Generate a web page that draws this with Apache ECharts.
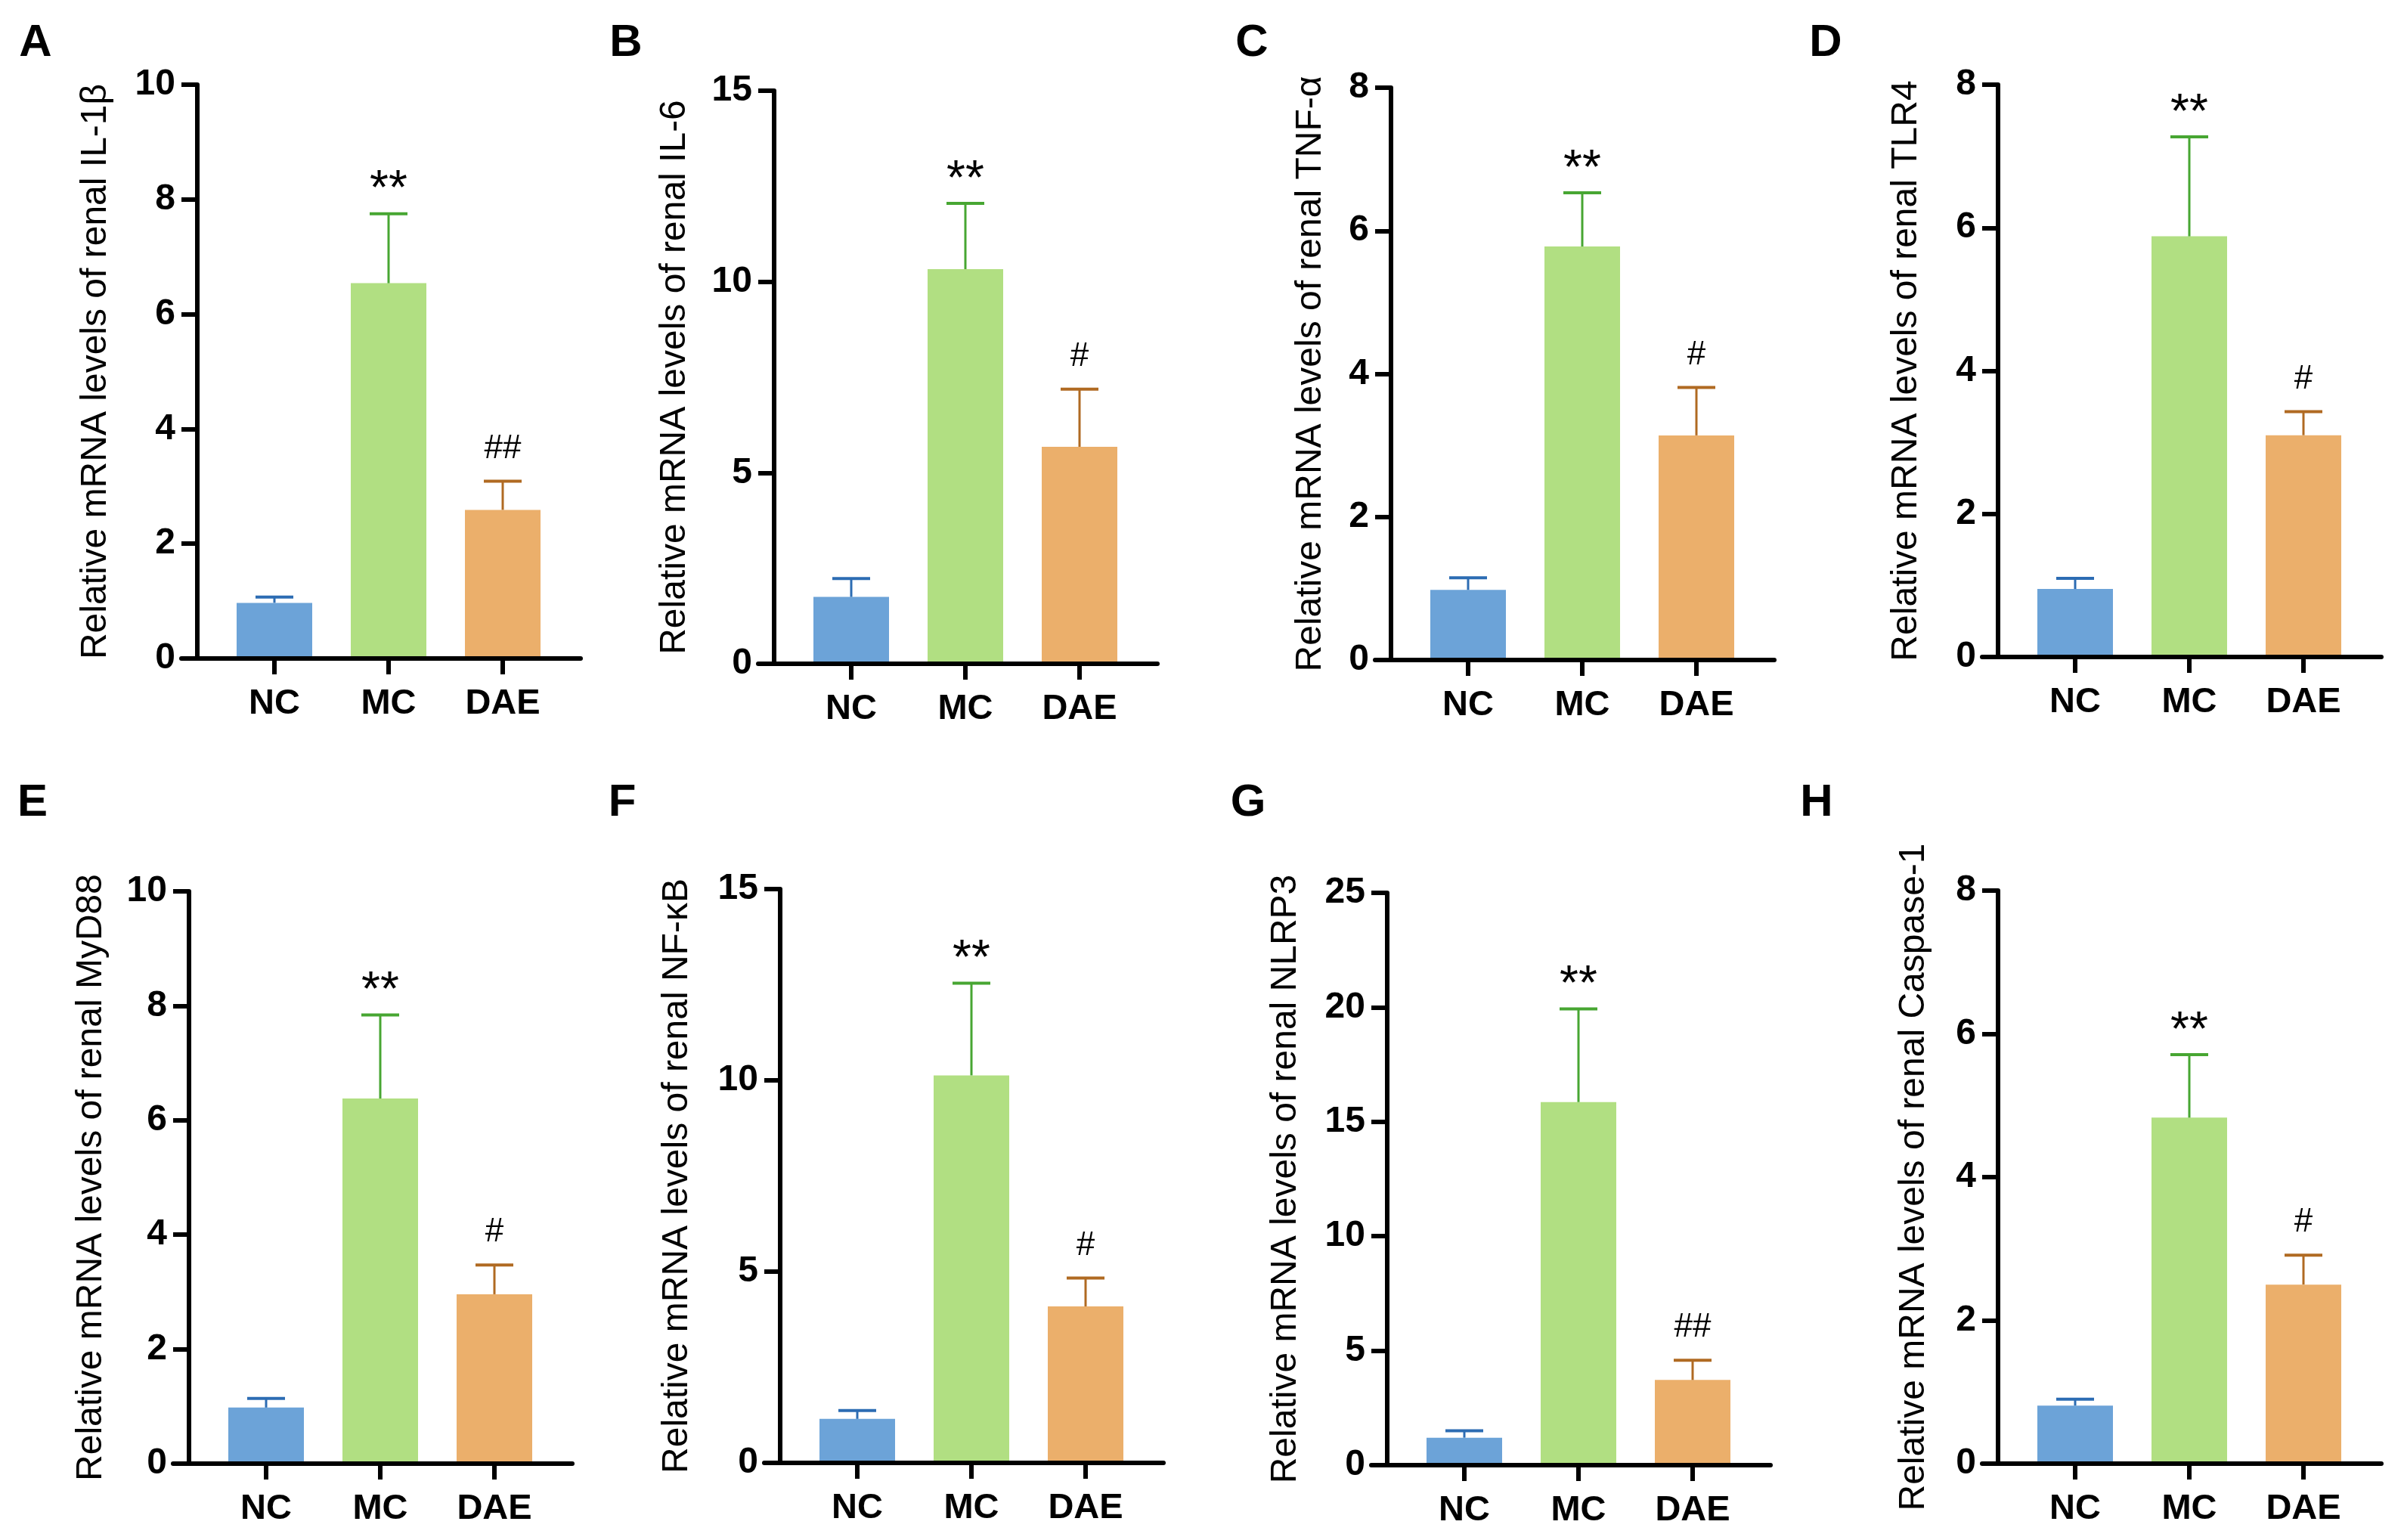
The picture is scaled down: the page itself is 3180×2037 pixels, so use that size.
<!DOCTYPE html>
<html>
<head>
<meta charset="utf-8">
<script src="https://cdn.jsdelivr.net/npm/echarts@6/dist/echarts.min.js"></script>
<style>
html, body { margin: 0; padding: 0; background: #fff; }
#main { width: 3180px; height: 2037px; }
</style>
</head>
<body>
<div id="main"></div>
<script>
// groups on the x axis
var groups = ['NC', 'MC', 'DAE'];

// panel letters and y axis titles
var letters = ['A', 'B', 'C', 'D', 'E', 'F', 'G', 'H'];
var titles = [
	'Relative mRNA levels of renal IL-1β',
	'Relative mRNA levels of renal IL-6',
	'Relative mRNA levels of renal TNF-α',
	'Relative mRNA levels of renal TLR4',
	'Relative mRNA levels of renal MyD88',
	'Relative mRNA levels of renal NF-κB',
	'Relative mRNA levels of renal NLRP3',
	'Relative mRNA levels of renal Caspase-1'
];

// y axis ticks (max and step)
var yMax = [10, 15, 8, 8, 10, 15, 25, 8];
var yStep = [2, 5, 2, 2, 2, 5, 5, 2];

// mean values (NC, MC, DAE)
var il1bMean = [0.97, 6.54, 2.59];
var il6Mean = [1.75, 10.33, 5.68];
var tnfMean = [0.98, 5.78, 3.14];
var tlr4Mean = [0.95, 5.88, 3.10];
var myd88Mean = [0.98, 6.38, 2.96];
var nfkbMean = [1.15, 10.13, 4.09];
var nlrp3Mean = [1.20, 15.86, 3.72];
var casp1Mean = [0.81, 4.83, 2.50];

// error bars (SD, drawn upward only)
var il1bSd = [0.10, 1.21, 0.50];
var il6Sd = [0.48, 1.72, 1.51];
var tnfSd = [0.17, 0.75, 0.67];
var tlr4Sd = [0.15, 1.39, 0.33];
var myd88Sd = [0.16, 1.46, 0.51];
var nfkbSd = [0.22, 2.41, 0.74];
var nlrp3Sd = [0.30, 4.07, 0.86];
var casp1Sd = [0.09, 0.88, 0.41];

// significance marks
var il1bSig = ['', '**', '##'];
var il6Sig = ['', '**', '#'];
var tnfSig = ['', '**', '#'];
var tlr4Sig = ['', '**', '#'];
var myd88Sig = ['', '**', '#'];
var nfkbSig = ['', '**', '#'];
var nlrp3Sig = ['', '**', '##'];
var casp1Sig = ['', '**', '#'];

var means = [il1bMean, il6Mean, tnfMean, tlr4Mean, myd88Mean, nfkbMean, nlrp3Mean, casp1Mean];
var sds = [il1bSd, il6Sd, tnfSd, tlr4Sd, myd88Sd, nfkbSd, nlrp3Sd, casp1Sd];
var sigs = [il1bSig, il6Sig, tnfSig, tlr4Sig, myd88Sig, nfkbSig, nlrp3Sig, casp1Sig];

// colours
var barColors = ['#6CA3D8', '#B1DF82', '#EBAF6B'];
var errColors = ['#2C6CB3', '#47A632', '#B06A22'];

// layout (pixels): y axis x position, top tick, zero line, title gap
var axisX = [261, 1024, 1840, 2643, 250, 1032, 1835, 2643];
var plotTop = [112, 120, 116, 112, 1179, 1176, 1181, 1178];
var plotZero = [871, 878, 873, 869, 1936, 1935, 1938, 1936];
var nameGap = [110, 107, 82, 97, 105, 112, 110, 87];
var letterPos = [[47, 57], [828, 57], [1656, 57], [2415, 57], [43, 1062], [823, 1062], [1651, 1062], [2403, 1062]];

var FONT = '"Liberation Sans", Arial, Helvetica, sans-serif';
var TICK_EXT = 21;      // x axis runs this far left of the y axis
var SLOT = 151;         // px per group
var FIRST = 102;        // first bar centre from y axis
var AXIS_W = 507;       // x axis length right of y axis

var grids = [], xAxes = [], yAxes = [], series = [], graphics = [];

for (var i = 0; i < 8; i++) {
	var xmin = -(FIRST + TICK_EXT) / SLOT;
	var xmax = (AXIS_W - FIRST) / SLOT;
	grids.push({
		left: axisX[i] - TICK_EXT,
		top: plotTop[i],
		width: AXIS_W + TICK_EXT,
		height: plotZero[i] - plotTop[i],
		containLabel: false
	});
	xAxes.push({
		gridIndex: i,
		type: 'value',
		min: xmin,
		max: xmax,
		z: 5,
		splitLine: { show: false },
		axisLine: { show: true, lineStyle: { color: '#000', width: 6 } },
		axisTick: { show: true, customValues: [0, 1, 2], length: 21, lineStyle: { color: '#000', width: 6 } },
		axisLabel: {
			customValues: [0, 1, 2],
			formatter: function (v) { return groups[Math.round(v)]; },
			color: '#000', fontSize: 47, fontWeight: 'bold', fontFamily: FONT, margin: 37
		}
	});
	yAxes.push({
		gridIndex: i,
		type: 'value',
		min: 0,
		max: yMax[i],
		interval: yStep[i],
		offset: -TICK_EXT,
		z: 5,
		splitLine: { show: false },
		axisLine: { show: true, onZero: false, lineStyle: { color: '#000', width: 6 } },
		axisTick: { show: true, length: 21, lineStyle: { color: '#000', width: 6 } },
		axisLabel: { color: '#000', fontSize: 48, fontWeight: 'bold', fontFamily: FONT, margin: 29 },
		name: titles[i],
		nameLocation: 'middle',
		nameGap: nameGap[i],
		nameTextStyle: { color: '#000', fontSize: 48, fontFamily: FONT }
	});

	series.push({
		type: 'bar',
		xAxisIndex: i,
		yAxisIndex: i,
		barWidth: 100,
		data: groups.map(function (g, j) { return [j, means[i][j]]; }),
		itemStyle: { color: function (p) { return barColors[p.dataIndex]; } },
		silent: true
	});

	series.push({
		type: 'custom',
		xAxisIndex: i,
		yAxisIndex: i,
		z: 3,
		silent: true,
		data: groups.map(function (g, j) { return [j, means[i][j], means[i][j] + sds[i][j]]; }),
		encode: { x: 0, y: 2 },
		renderItem: (function (sig) {
			return function (params, api) {
				var k = params.dataIndex;
				var p0 = api.coord([api.value(0), api.value(1)]);
				var p1 = api.coord([api.value(0), api.value(2)]);
				var c = errColors[k];
				var children = [
					{ type: 'line', shape: { x1: p0[0], y1: p0[1], x2: p1[0], y2: p1[1] }, style: { stroke: c, lineWidth: 3 } },
					{ type: 'line', shape: { x1: p1[0] - 25, y1: p1[1], x2: p1[0] + 25, y2: p1[1] }, style: { stroke: c, lineWidth: 4 } }
				];
				var s = sig[k];
				if (s) {
					var star = s.indexOf('*') >= 0;
					children.push({
						type: 'text',
						style: {
							text: s,
							x: p1[0],
							y: star ? p1[1] - 30 : p1[1] - 43,
							align: 'center',
							verticalAlign: 'middle',
							fill: '#000',
							font: (star ? '64px ' : '44px ') + FONT
						}
					});
				}
				return { type: 'group', children: children };
			};
		})(sigs[i])
	});

	graphics.push({
		type: 'text',
		x: letterPos[i][0],
		y: letterPos[i][1],
		style: {
			text: letters[i],
			fill: '#000',
			font: 'bold 60px ' + FONT,
			align: 'center',
			verticalAlign: 'middle'
		}
	});
}

var myChart = echarts.init(document.getElementById('main'));
myChart.setOption({
	backgroundColor: '#fff',
	animation: false,
	grid: grids,
	xAxis: xAxes,
	yAxis: yAxes,
	series: series,
	graphic: graphics
});
</script>
</body>
</html>
